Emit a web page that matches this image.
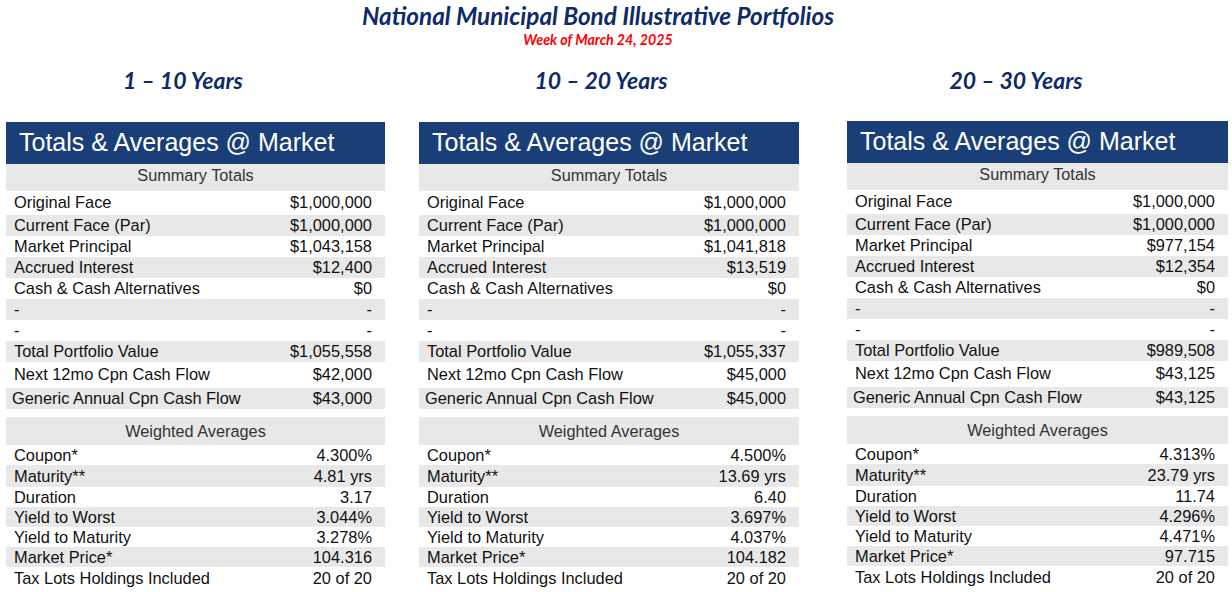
<!DOCTYPE html>
<html>
<head>
<meta charset="utf-8">
<script src="https://cdn.jsdelivr.net/npm/chart.js@4"></script>
<style>
  html,body{margin:0;padding:0;background:#fff;}
  body{width:1232px;height:592px;position:relative;overflow:hidden;font-family:"Liberation Sans",Arial,sans-serif;}
  .title{position:absolute;left:0;width:1196px;top:1px;text-align:center;font-family:Lato,"Open Sans",sans-serif;font-weight:bold;font-style:italic;color:#0d2b6b;font-size:24.3px;}
  .sub{position:absolute;left:0;width:1196px;top:31px;text-align:center;font-family:Lato,"Open Sans",sans-serif;font-weight:bold;font-style:italic;color:#ff0000;font-size:14.2px;}
  .sect{position:absolute;top:66px;text-align:center;font-family:Lato,"Open Sans",sans-serif;font-weight:bold;font-style:italic;color:#0d2b6b;font-size:23px;width:300px;}
  .panel{position:absolute;top:122px;width:379px;}
  .hdr{height:42px;background:#1a3f78;color:#fff;font-size:25px;line-height:40px;padding-left:13px;box-sizing:border-box;}
  .band{height:27px;background:#e8e8e8;color:#333;font-size:16.3px;line-height:23px;text-align:center;}
  .row{height:21px;display:flex;justify-content:space-between;font-size:16.4px;line-height:21px;padding:0 13px 0 8px;color:#111;}
  .row.g{background:#e8e8e8;}
  .gap{height:8px;}
  .wrow{height:20px;line-height:20px;}
  .h22{height:22px;line-height:22px;}
  .h24{height:24px;line-height:23px;}
  .h26{height:26px;line-height:25px;}
  canvas{display:none;}
</style>
</head>
<body>
<div class="title">National Municipal Bond Illustrative Portfolios</div>
<div class="sub">Week of March 24, 2025</div>
<canvas id="c"></canvas>
<script>
const pageTitle = "National Municipal Bond Illustrative Portfolios";
const weekLabel = "Week of March 24, 2025";
const portfolios = ["1 – 10 Years", "10 – 20 Years", "20 – 30 Years"];
const tableTitle = "Totals & Averages @ Market";
const summaryHeader = "Summary Totals";
const summaryLabels = ["Original Face","Current Face (Par)","Market Principal","Accrued Interest","Cash & Cash Alternatives","-","-","Total Portfolio Value","Next 12mo Cpn Cash Flow","Generic Annual Cpn Cash Flow"];
const summary1 = ["$1,000,000","$1,000,000","$1,043,158","$12,400","$0","-","-","$1,055,558","$42,000","$43,000"];
const summary2 = ["$1,000,000","$1,000,000","$1,041,818","$13,519","$0","-","-","$1,055,337","$45,000","$45,000"];
const summary3 = ["$1,000,000","$1,000,000","$977,154","$12,354","$0","-","-","$989,508","$43,125","$43,125"];
const avgHeader = "Weighted Averages";
const avgLabels = ["Coupon*","Maturity**","Duration","Yield to Worst","Yield to Maturity","Market Price*","Tax Lots Holdings Included"];
const avg1 = ["4.300%","4.81 yrs","3.17","3.044%","3.278%","104.316","20 of 20"];
const avg2 = ["4.500%","13.69 yrs","6.40","3.697%","4.037%","104.182","20 of 20"];
const avg3 = ["4.313%","23.79 yrs","11.74","4.296%","4.471%","97.715","20 of 20"];

const summaries = [summary1, summary2, summary3];
const avgs = [avg1, avg2, avg3];
const panelLeft = [6, 419, 847];
const panelWidth = [379, 380, 381];
const panelTop = [122, 122, 121];
const sectCenter = [183, 601, 1016];
const sumRowClass = ['h24','','','','','','','','h26',''];
const avgRowClass = ['','h22','','','','','h24'];

const esc = t => t.replace(/&/g,'&amp;');

portfolios.forEach((p, i) => {
  const s = document.createElement('div');
  s.className = 'sect';
  s.style.left = (sectCenter[i] - 150) + 'px';
  s.textContent = p;
  document.body.appendChild(s);

  const panel = document.createElement('div');
  panel.className = 'panel';
  panel.style.left = panelLeft[i] + 'px';
  panel.style.top = panelTop[i] + 'px';
  panel.style.width = panelWidth[i] + 'px';
  let html = `<div class="hdr">${esc(tableTitle)}</div>`;
  html += `<div class="band">${summaryHeader}</div>`;
  summaryLabels.forEach((l, k) => {
    const cls = 'row ' + (k % 2 ? 'g ' : '') + sumRowClass[k];
    const pad = k === 9 ? ' style="padding-left:6px"' : '';
    html += `<div class="${cls}"${pad}><span>${esc(l)}</span><span>${summaries[i][k]}</span></div>`;
  });
  html += `<div class="gap"></div><div class="band" style="height:28px;line-height:28px">${avgHeader}</div>`;
  avgLabels.forEach((l, k) => {
    const cls = 'row wrow ' + (k % 2 ? 'g ' : '') + avgRowClass[k];
    html += `<div class="${cls}"><span>${esc(l)}</span><span>${avgs[i][k]}</span></div>`;
  });
  panel.innerHTML = html;
  document.body.appendChild(panel);
});
</script>
</body>
</html>
